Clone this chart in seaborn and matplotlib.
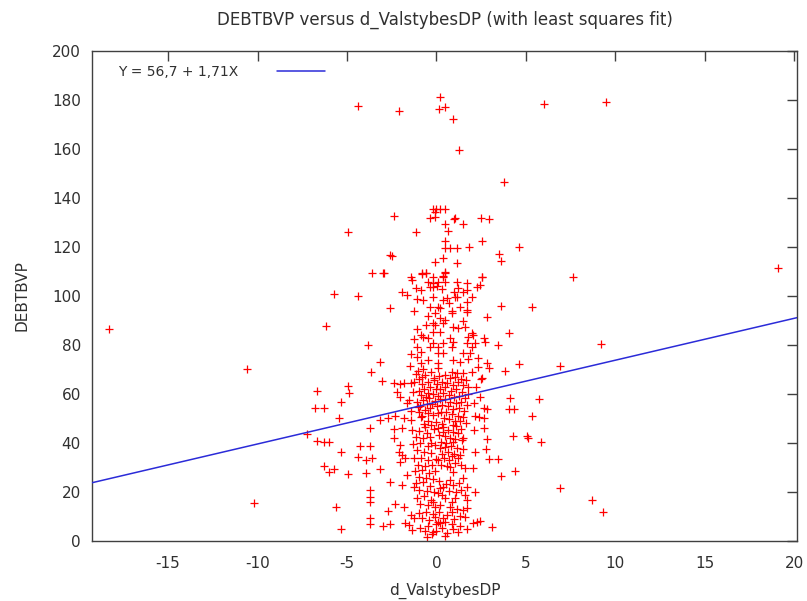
import matplotlib
matplotlib.use("Agg")
import matplotlib.pyplot as plt
import seaborn as sns
import pandas as pd

# ---------------- data ----------------
outliers = [(-18.3, 86.5), (-10.6, 70.2), (-10.2, 15.5), (19.1, 111.4), (9.45, 179.0),
            (6.0, 178.4), (9.2, 80.4), (7.65, 107.8), (6.9, 71.4), (6.9, 21.6),
            (8.7, 16.7), (9.3, 11.8), (3.8, 146.5), (-4.41, 177.5), (-2.07, 175.5)]

top_points = [(0.2, 181.2), (0.17, 176.3), (0.45, 177.1), (0.9, 172.2), (1.28, 159.6),
              (-0.17, 135.5), (0.0, 135.5), (0.22, 135.5), (0.45, 135.5), (-0.06, 134.3),
              (-2.35, 132.7), (-0.34, 131.8), (-0.06, 132.2), (1.06, 131.8), (1.51, 129.4),
              (2.51, 131.8), (2.96, 131.4), (0.45, 129.4), (0.67, 126.5), (-1.12, 126.1),
              (-2.51, 116.3), (0.5, 122.4), (0.5, 119.6), (0.78, 119.6), (1.17, 119.6),
              (1.84, 120.0), (2.57, 122.4), (3.52, 117.1), (3.63, 114.3), (4.64, 120.0),
              (-0.06, 113.9), (0.39, 115.5), (1.17, 113.5), (-2.91, 109.4), (-1.4, 107.8),
              (-0.78, 109.4), (-0.61, 109.4), (-0.17, 107.8), (0.34, 108.2), (0.5, 109.8),
              (2.57, 107.8), (-4.92, 126.1), (-2.57, 116.7), (-3.58, 109.4), (-2.96, 109.4),
              (-5.75, 100.8), (-4.36, 100.0), (-2.57, 95.1), (1.0, 131.4)]

upper_mid = [(-0.17, 99.6), (0.39, 98.4), (0.61, 99.2), (1.06, 99.6), (1.17, 99.6),
             (0.06, 95.5), (0.22, 95.1), (2.01, 99.6), (1.73, 97.6), (1.73, 94.3),
             (0.89, 93.9), (3.63, 95.9), (5.36, 95.5), (0.45, 109.4), (0.34, 107.8),
             (0.11, 105.7), (0.5, 105.7), (-0.22, 105.3), (-0.17, 103.7), (1.17, 105.7),
             (1.73, 105.3), (2.57, 107.8), (2.46, 104.5), (2.29, 103.7), (1.23, 103.3),
             (1.51, 101.6), (1.73, 102.4), (-1.34, 106.5), (-0.78, 109.0), (-0.61, 109.4),
             (-1.12, 103.3), (-0.89, 102.4), (-0.45, 105.7), (-0.34, 103.7), (-1.06, 98.8),
             (-0.73, 98.4), (-0.34, 95.5), (-1.9, 101.6), (-1.62, 100.4), (-1.28, 93.9)]

right_mid = [(0.22, 91.0), (0.89, 93.1), (1.68, 93.5), (2.85, 91.4), (4.08, 84.9),
             (3.46, 80.0), (4.64, 72.2), (3.85, 69.4), (4.13, 58.4), (4.08, 53.9),
             (4.36, 53.9), (5.75, 58.0), (5.36, 51.0), (2.63, 54.3), (2.85, 53.9),
             (2.40, 50.6), (2.63, 50.2), (2.18, 51.0), (-0.06, 88.2), (0.39, 89.0),
             (0.95, 87.3), (1.23, 86.9), (1.62, 87.3), (2.01, 84.9), (2.07, 84.1),
             (-0.17, 85.3), (0.22, 85.3), (1.79, 83.3), (1.73, 80.8), (2.18, 80.8),
             (2.63, 82.9), (2.74, 81.2), (0.78, 82.9), (0.95, 81.2), (0.89, 79.2),
             (-0.17, 80.8), (0.06, 79.2), (0.39, 80.8), (0.06, 76.7), (0.34, 76.7),
             (1.51, 76.7), (1.9, 76.7), (0.95, 73.9), (1.34, 73.1), (1.79, 74.3),
             (0.11, 72.7), (0.11, 70.6), (2.35, 71.0), (2.85, 72.7), (2.91, 70.6),
             (2.57, 66.5), (2.01, 69.0), (1.51, 68.6), (0.89, 69.0), (1.17, 68.6)]

left_mid = [(-6.2, 87.8), (-3.85, 80.0), (-3.13, 73.1), (-3.63, 69.0), (-3.07, 65.3),
            (-2.4, 64.5), (-2.01, 64.1), (-1.84, 64.5), (-4.97, 63.3), (-4.86, 60.4),
            (-5.36, 56.7), (-6.26, 54.3), (-5.42, 50.2), (-2.18, 60.8), (-2.01, 58.8),
            (-1.56, 57.6), (-1.62, 56.3), (-1.28, 64.9), (-1.45, 64.5), (-1.06, 86.5),
            (-1.28, 82.4), (-0.89, 84.1), (-0.73, 83.3), (-0.5, 82.9), (-1.06, 79.2),
            (-0.89, 77.1), (-0.34, 79.2), (-1.06, 75.1), (-0.5, 73.9), (-0.89, 72.7),
            (-0.73, 70.2), (-1.17, 68.2), (-0.78, 66.9), (-0.22, 89.0), (-2.68, 50.2),
            (-2.29, 51.0), (-1.84, 50.2), (-1.45, 49.4), (-3.13, 49.4), (-0.89, 50.6),
            (-0.5, 52.2), (-1.01, 54.7), (-0.34, 54.3), (-6.7, 61.2), (-6.8, 54.3),
            (-7.26, 43.7), (-6.7, 40.8)]

left_low = [(-3.69, 46.1), (-2.4, 45.7), (-1.9, 46.1), (-6.31, 40.4), (-5.98, 40.4),
            (-5.36, 36.3), (-4.25, 38.8), (-3.69, 38.8), (-4.41, 34.3), (-3.91, 33.1),
            (-3.58, 33.9), (-6.26, 30.6), (-5.75, 29.4), (-6.03, 28.2), (-4.97, 27.3),
            (-3.91, 27.8), (-3.13, 29.4), (-3.74, 20.8), (-3.69, 18.0), (-3.74, 15.9),
            (-5.64, 13.9), (-3.74, 9.4), (-3.69, 6.9), (-5.36, 4.9), (-2.96, 6.1),
            (-2.57, 6.9), (-2.57, 24.1), (-1.9, 22.9), (-2.68, 12.2), (-2.29, 15.1),
            (-1.84, 13.9), (-1.73, 7.3), (-1.56, 6.5), (-1.34, 4.5), (-1.45, 10.6),
            (-1.28, 9.4), (-2.01, 32.2), (-1.73, 33.9), (-2.4, 42.0), (-2.01, 39.2),
            (-2.12, 36.3), (-1.9, 35.1), (-1.62, 26.9), (-1.28, 22.0)]

right_low = [(2.12, 45.3), (2.63, 46.1), (2.85, 41.6), (4.3, 42.9), (5.08, 42.9),
             (5.14, 42.0), (5.87, 40.4), (2.79, 37.6), (2.18, 36.3), (2.96, 33.5),
             (3.46, 33.5), (4.41, 28.6), (3.63, 26.5), (1.62, 29.8), (2.07, 29.8),
             (1.51, 25.7), (1.73, 22.0), (2.18, 20.0), (1.73, 16.7), (1.73, 13.5),
             (2.46, 8.2), (2.29, 7.8), (2.07, 7.3), (3.13, 5.7), (1.73, 4.9),
             (1.34, 6.1), (0.89, 6.9), (0.5, 7.8), (0.06, 7.8), (0.22, 7.3),
             (-0.22, 3.7), (0.78, 13.9), (0.61, 10.6), (0.39, 9.4), (0.78, 30.2),
             (0.95, 28.2), (0.78, 24.9), (0.06, 19.6), (0.22, 21.6), (0.39, 22.0),
             (-0.17, 15.9), (0.22, 14.7), (0.5, 17.6), (0.89, 15.9), (1.06, 17.6),
             (1.45, 41.2), (1.51, 42.0), (0.95, 40.4), (0.39, 44.5), (0.06, 46.1)]

core_a = [(-1.05, 69.5), (-0.95, 66.2), (-0.8, 63.9), (-0.62, 67.8), (-0.45, 65.1),
          (-0.3, 69.0), (-0.15, 66.4), (0.02, 64.2), (-1.0, 61.3), (-0.85, 59.7),
          (-0.7, 62.0), (-0.5, 60.5), (-0.35, 62.8), (-0.2, 60.1), (-0.05, 61.9),
          (0.08, 59.0), (-1.08, 56.9), (-0.9, 55.2), (-0.75, 57.6), (-0.55, 56.0),
          (-0.4, 58.3), (-0.25, 55.9), (-0.1, 57.2), (0.05, 55.0), (-0.98, 52.8),
          (-0.8, 50.9), (-0.62, 53.4), (-0.45, 49.0), (-0.2, 51.6), (-0.05, 48.7),
          (0.1, 52.3), (-0.7, 47.8), (-0.3, 47.3), (-0.12, 65.9), (-0.6, 58.9)]

core_b = [(0.15, 67.4), (0.3, 65.0), (0.45, 67.9), (0.6, 64.3), (0.75, 66.6),
          (0.9, 63.8), (1.05, 67.1), (1.2, 64.9), (1.35, 66.3), (1.5, 63.5),
          (1.65, 65.7), (1.78, 62.9), (0.2, 62.2), (0.35, 60.3), (0.5, 62.7),
          (0.68, 59.6), (0.82, 61.4), (0.97, 58.8), (1.12, 61.9), (1.28, 59.3),
          (1.42, 61.0), (1.6, 58.5), (1.75, 60.2), (0.18, 57.8), (0.33, 55.6),
          (0.48, 57.9), (0.63, 54.9), (0.78, 56.8), (0.93, 53.7), (1.08, 56.3),
          (1.25, 54.1), (1.4, 56.9), (1.55, 53.2), (1.7, 55.5), (0.25, 52.5),
          (0.4, 50.3), (0.55, 52.8), (0.72, 49.6), (0.88, 51.7), (1.02, 48.8),
          (1.18, 51.2), (1.33, 49.1), (1.5, 50.8), (1.66, 48.2), (0.3, 47.6),
          (0.95, 47.2)]

core_c = [(-1.35, 45.2), (-1.15, 42.6), (-0.95, 44.8), (-0.75, 41.9), (-0.55, 44.1),
          (-0.35, 42.3), (-0.15, 45.6), (-1.3, 39.4), (-1.1, 37.1), (-0.9, 39.8),
          (-0.7, 36.5), (-0.5, 38.7), (-0.3, 36.0), (-0.1, 39.1), (-1.25, 33.8),
          (-1.05, 31.2), (-0.85, 34.0), (-0.65, 30.6), (-0.45, 33.2), (-0.25, 30.9),
          (-0.05, 33.6), (-1.2, 28.4), (-1.0, 26.1), (-0.8, 28.9), (-0.6, 25.6),
          (-0.4, 27.7), (-0.2, 25.3), (-0.08, 28.6), (-0.62, 46.5), (-0.28, 40.0)]

core_d = [(0.12, 43.1), (0.28, 40.6), (0.45, 42.8), (0.62, 45.3), (0.75, 42.2),
          (0.9, 44.6), (1.05, 41.5), (1.2, 44.0), (1.35, 45.9), (0.18, 37.9),
          (0.33, 35.5), (0.5, 38.4), (0.66, 36.2), (0.82, 38.9), (0.98, 35.6),
          (1.14, 38.1), (1.3, 35.1), (1.46, 37.6), (0.1, 33.0), (0.26, 31.1),
          (0.42, 33.7), (0.58, 30.8), (0.72, 32.9), (0.88, 34.5), (1.05, 31.7),
          (1.22, 33.9), (1.38, 31.0), (0.35, 46.4), (0.55, 40.1), (1.1, 46.8)]

core_e = [(-1.15, 23.6), (-0.95, 21.0), (-0.75, 23.9), (-0.55, 20.4), (-0.35, 22.6),
          (-0.15, 19.8), (-1.1, 17.4), (-0.9, 15.2), (-0.7, 18.3), (-0.5, 14.6),
          (-0.3, 16.9), (-0.1, 13.8), (-1.0, 11.5), (-0.8, 9.3), (-0.6, 12.0),
          (-0.4, 8.6), (-0.2, 10.9), (-0.05, 6.8), (-0.9, 5.2), (-0.65, 3.9),
          (-0.45, 6.0), (-0.25, 2.8), (-0.1, 9.7), (-0.55, 1.5), (0.0, 4.2)]

core_f = [(0.12, 24.3), (0.3, 18.9), (0.55, 23.1), (0.7, 20.3), (0.95, 22.7),
          (1.1, 19.8), (1.25, 23.5), (1.4, 20.9), (1.6, 18.6), (0.15, 11.9),
          (0.3, 5.3), (0.6, 3.2), (0.85, 11.8), (1.0, 9.0), (1.15, 13.0),
          (1.3, 10.4), (1.5, 12.6), (1.2, 3.6), (0.45, 1.9), (0.95, 5.0), (1.6, 9.8)]

core_g = [(-0.45, 91.8), (-0.1, 93.0), (0.5, 90.4), (0.7, 97.0), (1.0, 101.8),
          (1.3, 95.7), (0.3, 102.8), (-0.6, 88.3), (1.5, 89.7), (0.05, 104.1),
          (-1.4, 76.2), (-1.5, 71.4), (-1.3, 60.8), (-1.45, 53.0), (2.2, 63.0),
          (2.45, 58.6), (2.1, 56.2), (2.3, 74.5), (2.0, 79.0), (2.5, 66.0)]

fit_intercept = 56.7
fit_slope = 1.71
legend_label = "Y = 56,7 + 1,71X"

x_ticks = [-15, -10, -5, 0, 5, 10, 15, 20]
y_ticks = [0, 20, 40, 60, 80, 100, 120, 140, 160, 180, 200]
x_limits = (-19.25, 20.15)
y_limits = (0, 200)

# ---------------- build ----------------
groups = [outliers, top_points, upper_mid, right_mid, left_mid, left_low, right_low,
          core_a, core_b, core_c, core_d, core_e, core_f, core_g]
pts = [p for g in groups for p in g]
df = pd.DataFrame(pts, columns=["d_ValstybesDP", "DEBTBVP"])

fit_x = [x_limits[0], x_limits[1]]
fit_df = pd.DataFrame({"x": fit_x, "y": [fit_intercept + fit_slope * v for v in fit_x]})

sns.set_style("white")
plt.rcParams["font.family"] = ["DejaVu Sans"]
plt.rcParams["axes.unicode_minus"] = False
text_color = "#303030"

fig = plt.figure(figsize=(8.07, 6.01), dpi=100)
ax = fig.add_axes([92 / 807, 60 / 601, (797 - 92) / 807, (541 - 51) / 601])

sns.scatterplot(data=df, x="d_ValstybesDP", y="DEBTBVP", marker="+", color="#ff0000",
                s=36, linewidth=0.9, ax=ax, legend=False, zorder=2)
sns.lineplot(data=fit_df, x="x", y="y", color="#2b2bd8", linewidth=1.1, ax=ax,
             label=legend_label, zorder=3)

ax.set_xlim(*x_limits)
ax.set_ylim(*y_limits)
ax.set_xticks(x_ticks)
ax.set_yticks(y_ticks)
ax.tick_params(direction="in", length=7, width=1, colors="#404040", labelcolor=text_color,
               labelsize=11, top=True, right=True)
ax.tick_params(axis="x", pad=11)
ax.tick_params(axis="y", pad=8)
for s in ax.spines.values():
    s.set_color("#404040")
    s.set_linewidth(1.0)

ax.set_xlabel("d_ValstybesDP", fontsize=11, color=text_color, labelpad=8)
ax.set_ylabel("DEBTBVP", fontsize=11, color=text_color, labelpad=16)
ax.set_title("DEBTBVP versus d_ValstybesDP (with least squares fit)", fontsize=12,
             color=text_color, pad=19)

leg = ax.legend(loc="upper left", bbox_to_anchor=(0.017, 1.0), frameon=False,
                markerfirst=False, handlelength=3.45, handletextpad=2.8, fontsize=10,
                labelcolor=text_color, borderaxespad=0.6)

fig.savefig("out.png", dpi=100)
